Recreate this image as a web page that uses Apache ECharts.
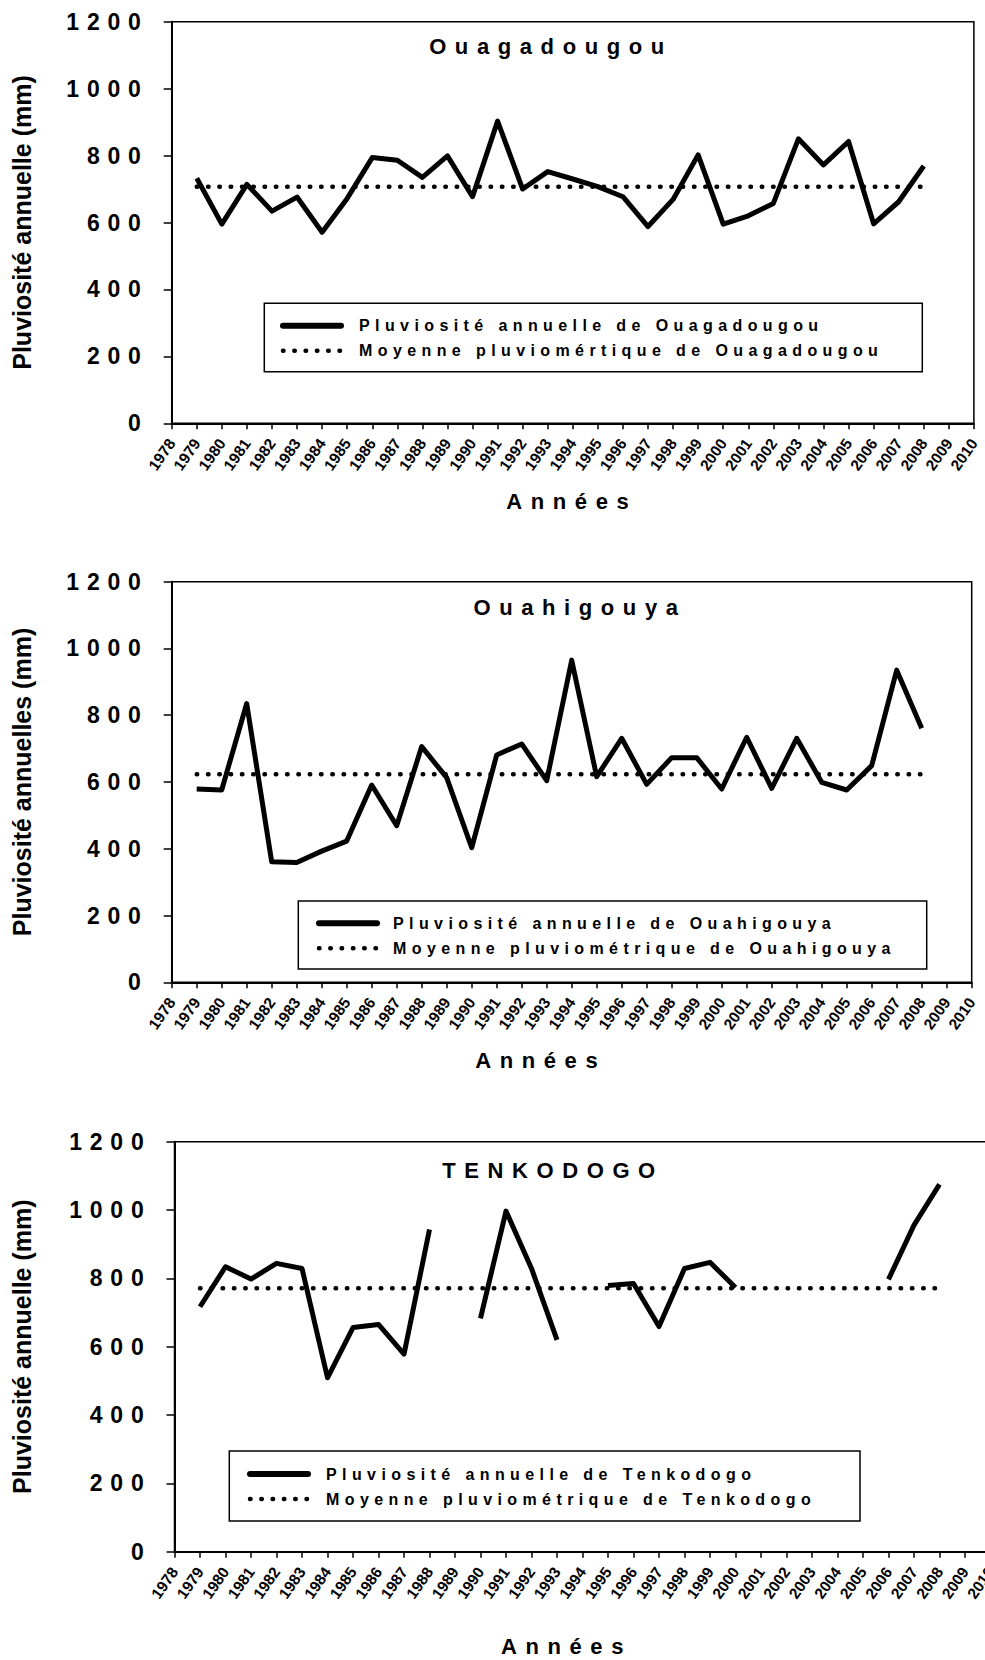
<!DOCTYPE html>
<html>
<head>
<meta charset="utf-8">
<title>Pluviosité annuelle</title>
<script src="https://cdn.jsdelivr.net/npm/echarts@6/dist/echarts.min.js"></script>
<style>
    html, body { margin: 0; padding: 0; background: #fff; }
    #chart { width: 985px; height: 1660px; }
</style>
</head>
<body>
<div id="chart"></div>
<script>
const years = ['1978', '1979', '1980', '1981', '1982', '1983', '1984', '1985', '1986', '1987', '1988',
    '1989', '1990', '1991', '1992', '1993', '1994', '1995', '1996', '1997', '1998', '1999', '2000',
    '2001', '2002', '2003', '2004', '2005', '2006', '2007', '2008', '2009', '2010'];

// pluviosité annuelle (mm), une valeur par année de `years`, null = pas de mesure
const ouagaRain = [null, 732, 595, 714, 634, 676, 571, 672, 794, 786, 735, 799, 677, 903, 700, 752,
    730, 707, 677, 588, 669, 802, 595, 620, 657, 850, 772, 842, 596, 662, 769, null, null];
const ouahiRain = [null, 579, 576, 835, 361, 359, 393, 423, 591, 469, 706, 613, 403, 681, 714, 604,
    965, 616, 731, 593, 673, 673, 579, 734, 581, 731, 599, 576, 649, 935, 761, null, null];
const tenkoRain = [null, 717, 834, 798, 844, 829, 509, 656, 665, 578, 943, null, 683, 997, 829, 620,
    null, 779, 785, 659, 829, 847, 773, null, null, null, null, null, 797, 956, 1075, null, null];

// moyennes pluviométriques (mm) et période couverte
const ouagaMean = 707;
const ouahiMean = 623;
const tenkoMean = 771;
const meanFrom = '1979';
const meanTo = '2008';

const FONT = "'Liberation Sans', Arial, sans-serif";
const BLACK = '#000';

function meanLine(mean) {
    return years.map((y) => (y >= meanFrom && y <= meanTo ? mean : null));
}

const panels = [
    {
        station: 'Ouagadougou', titleX: 551, titleY: 46,
        yName: 'Pluviosité annuelle (mm)', rain: ouagaRain, mean: ouagaMean,
        rainName: 'Pluviosité annuelle de Ouagadougou',
        meanName: 'Moyenne pluviomértique de Ouagadougou',
        grid: { left: 171.7, top: 21.7, width: 802.2, height: 401.6 },
        yNameGap: 137, xNameGap: 67, xNamePad: 2,
        legend: { left: 280, top: 317.7, textPad: 13 },
        box: [264.3, 303.3, 658, 68.4],
    },
    {
        station: 'Ouahigouya', titleX: 580, titleY: 607,
        yName: 'Pluviosité annuelles (mm)', rain: ouahiRain, mean: ouahiMean,
        rainName: 'Pluviosité annuelle de Ouahigouya',
        meanName: 'Moyenne pluviométrique de Ouahigouya',
        grid: { left: 171.7, top: 581.7, width: 800, height: 400.6 },
        yNameGap: 137, xNameGap: 67, xNamePad: 62,
        legend: { left: 316, top: 915.3, textPad: 11 },
        box: [298.3, 901, 628.4, 68],
    },
    {
        station: 'TENKODOGO', titleX: 553, titleY: 1170,
        yName: 'Pluviosité annuelle (mm)', rain: tenkoRain, mean: tenkoMean,
        rainName: 'Pluviosité annuelle de Tenkodogo',
        meanName: 'Moyenne pluviométrique de Tenkodogo',
        grid: { left: 174.5, top: 1141.7, width: 816, height: 410 },
        yNameGap: 140, xNameGap: 84, xNamePad: 32,
        legend: { left: 247, top: 1466, textPad: 13 },
        box: [229.3, 1451, 630.7, 70],
    },
];

const solidStyle = { color: BLACK, width: 5, join: 'round' };
const dottedStyle = { color: BLACK, width: 4.5, type: [0.5, 10.8], cap: 'round' };

const option = {
    animation: false,
    backgroundColor: '#fff',
    title: panels.map((p) => ({
        text: p.station,
        left: p.titleX,
        top: p.titleY,
        textAlign: 'center',
        textVerticalAlign: 'middle',
        padding: 0,
        textStyle: { fontSize: 22, fontWeight: 'bold', color: BLACK, fontFamily: FONT },
    })),
    grid: panels.map((p) => ({
        ...p.grid,
        containLabel: false,
        outerBoundsMode: 'none',
        show: true,
        borderColor: BLACK,
        borderWidth: 1.5,
        backgroundColor: 'transparent',
    })),
    xAxis: panels.map((p, i) => ({
        type: 'category',
        gridIndex: i,
        data: years,
        boundaryGap: false,
        axisLine: { lineStyle: { color: BLACK, width: 2 } },
        axisTick: { show: true, interval: 0, length: 6, lineStyle: { color: BLACK, width: 1.5 } },
        axisLabel: {
            interval: 0, rotate: 55, margin: 17,
            fontSize: 15.5, fontWeight: 'bold', color: BLACK, fontFamily: FONT,
        },
        splitLine: { show: false },
        name: 'Années',
        nameLocation: 'middle',
        nameGap: p.xNameGap,
        nameMoveOverlap: false,
        nameTextStyle: {
            fontSize: 22, fontWeight: 'bold', color: BLACK, fontFamily: FONT,
            padding: [0, p.xNamePad, 0, 0],
        },
    })),
    yAxis: panels.map((p, i) => ({
        type: 'value',
        gridIndex: i,
        min: 0,
        max: 1200,
        interval: 200,
        axisLine: { show: true, lineStyle: { color: BLACK, width: 2 } },
        axisTick: { show: true, length: 8, lineStyle: { color: BLACK, width: 1.5 } },
        axisLabel: {
            margin: 23, fontSize: 23, fontWeight: 'bold', color: BLACK, fontFamily: FONT,
            formatter: (v) => String(v),
        },
        splitLine: { show: false },
        name: p.yName,
        nameLocation: 'middle',
        nameRotate: 90,
        nameGap: p.yNameGap,
        nameMoveOverlap: false,
        nameTextStyle: { fontSize: 25, fontWeight: 'bold', color: BLACK, fontFamily: FONT },
    })),
    legend: panels.map((p) => ({
        orient: 'vertical',
        left: p.legend.left,
        top: p.legend.top,
        padding: 0,
        itemWidth: 58,
        itemHeight: 16,
        itemGap: 9,
        selectedMode: false,
        textStyle: {
            fontSize: 16, fontWeight: 'bold', color: BLACK, fontFamily: FONT,
            lineHeight: 16, padding: [0, 0, 0, p.legend.textPad],
        },
        data: [
            {
                name: p.rainName,
                itemStyle: { opacity: 0 },
                lineStyle: { width: 6, cap: 'round' },
            },
            {
                name: p.meanName,
                itemStyle: { opacity: 0 },
                lineStyle: { width: 4.5, type: [0.5, 10.8], cap: 'round' },
            },
        ],
    })),
    graphic: panels.map((p) => ({
        type: 'rect',
        silent: true,
        z: 10,
        shape: { x: p.box[0], y: p.box[1], width: p.box[2], height: p.box[3] },
        style: { fill: 'none', stroke: BLACK, lineWidth: 1.5 },
    })),
    series: panels.flatMap((p, i) => [
        {
            type: 'line',
            name: p.meanName,
            xAxisIndex: i,
            yAxisIndex: i,
            data: meanLine(p.mean),
            symbol: 'none',
            itemStyle: { color: BLACK },
            lineStyle: dottedStyle,
            emphasis: { disabled: true },
            z: 2,
        },
        {
            type: 'line',
            name: p.rainName,
            xAxisIndex: i,
            yAxisIndex: i,
            data: p.rain,
            symbol: 'none',
            itemStyle: { color: BLACK },
            lineStyle: solidStyle,
            emphasis: { disabled: true },
            z: 3,
        },
    ]),
};

const chartDom = document.getElementById('chart');
const chart = echarts.init(chartDom, null, { renderer: 'svg' });

// espacement des lettres comme dans la figure Excel d'origine
const letterSpacing = { '23px': 7.8, '22px': 8.6, '16px': 5.4 };
function spreadLetters() {
    chartDom.querySelectorAll('svg text').forEach((el) => {
        const s = letterSpacing[getComputedStyle(el).fontSize];
        if (s) {
            el.setAttribute('letter-spacing', s);
        }
    });
}

chart.on('finished', spreadLetters);
chart.setOption(option);
spreadLetters();
</script>
</body>
</html>
